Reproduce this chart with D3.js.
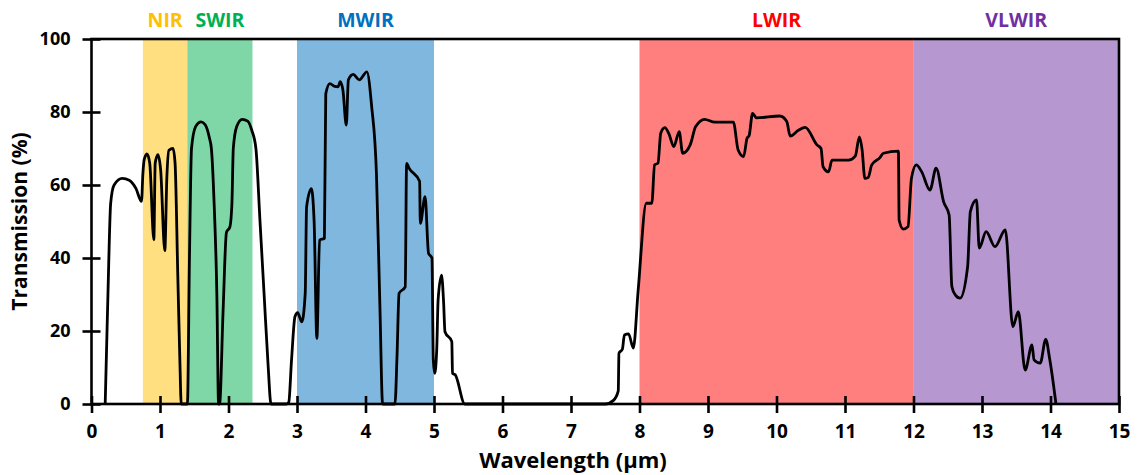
<!DOCTYPE html>
<html>
<head>
<meta charset="utf-8">
<script src="https://cdn.jsdelivr.net/npm/d3@7"></script>
<style>
  html, body { margin: 0; padding: 0; background: #fff; }
  svg { display: block; }
  text { font-family: "Open Sans", "DejaVu Sans", sans-serif; font-weight: 700; }
</style>
</head>
<body>
<svg id="chart" width="1137" height="475"></svg>
<script>
// Spectral bands (µm)
const bandNames  = ["NIR", "SWIR", "MWIR", "LWIR", "VLWIR"];
const bandStart  = [0.75, 1.4, 3, 8, 12];
const bandEnd    = [1.4, 2.35, 5, 12, 15];
const bandColors = ["#FFC000", "#00B050", "#0070C0", "#FF0000", "#7030A0"];

// Atmospheric transmission curve: wavelength (µm) and transmission (%)
const wavelength = [
  0.20, 0.24, 0.28, 0.33, 0.45, 0.55, 0.65, 0.73, 0.75, 0.77, 0.81, 0.85, 0.91, 0.93, 0.97,
  1.01, 1.07, 1.10, 1.13, 1.19, 1.22, 1.26, 1.29, 1.31,
  1.40, 1.43, 1.46, 1.52, 1.60, 1.66, 1.72, 1.75, 1.79, 1.83, 1.855,
  1.87, 1.92, 1.97, 2.02, 2.05, 2.07, 2.12, 2.20, 2.28, 2.34, 2.40, 2.46, 2.52, 2.58, 2.62,
  2.85, 2.88, 2.92, 2.97, 3.01, 3.07, 3.12, 3.14, 3.21, 3.25, 3.29, 3.33, 3.40, 3.42, 3.48,
  3.55, 3.60, 3.63, 3.67, 3.72, 3.75, 3.82, 3.91, 4.02, 4.09, 4.16, 4.21, 4.25,
  4.43, 4.46, 4.49, 4.58, 4.60, 4.64, 4.79, 4.80, 4.87, 4.92, 4.97, 4.99, 5.01, 5.04, 5.06,
  5.11, 5.14, 5.16, 5.26, 5.27, 5.31, 5.45,
  7.50, 7.62, 7.69, 7.70, 7.75, 7.78, 7.84, 7.91, 7.98, 8.10, 8.18, 8.22, 8.27, 8.31, 8.37,
  8.43, 8.50, 8.58, 8.63, 8.74, 8.82, 8.95, 9.10, 9.37, 9.44, 9.52, 9.57, 9.60, 9.65, 9.71,
  10.05, 10.15, 10.20, 10.32, 10.42, 10.59, 10.65, 10.68, 10.76, 10.81, 11.05, 11.15, 11.21,
  11.25, 11.29, 11.34, 11.39, 11.51, 11.56, 11.78, 11.79, 11.85, 11.92, 11.97, 12.04, 12.12,
  12.24, 12.33, 12.44, 12.52, 12.56, 12.61, 12.68, 12.79, 12.83, 12.92, 12.96, 13.06, 13.19,
  13.34, 13.45, 13.53, 13.63, 13.73, 13.76, 13.85, 13.93, 13.99, 14.08
];
const transmission = [
  0, 30, 55, 60, 61.8, 61.3, 59, 55.5, 63, 67, 68.5, 66, 45, 66, 68.3,
  64, 42, 62, 69.5, 70, 66, 35, 12, 0,
  0, 40, 70, 76, 77.3, 76.5, 73, 70, 55, 30, 0,
  0, 25, 47, 48.5, 55, 70, 76, 78, 77.5, 75, 70, 50, 30, 10, 0,
  0, 0.5, 12, 23.9, 25, 22.5, 30.3, 54, 59, 50, 18, 44.9, 45.4, 85, 87.8,
  87, 86.9, 88.3, 86, 76.4, 88.8, 90.3, 88.8, 91, 81.5, 63, 27, 0,
  0, 13, 30.3, 32.1, 65.9, 64.5, 61, 49.5, 56.8, 41.3, 40, 12, 8.4, 15, 28.5,
  35.3, 28, 19.8, 17.1, 8.4, 8, 0,
  0, 1, 3.6, 13.9, 15, 18.9, 19.2, 15.3, 31, 55, 55, 65.5, 66, 74.2, 75.7,
  74, 70.5, 74.6, 68.7, 71, 76, 78, 77.2, 77.2, 69.6, 67.8, 72.8, 73.5, 79.6, 78.4,
  78.9, 77.4, 73.4, 75, 75.8, 71, 70, 65, 63.6, 66.8, 66.8, 67.9, 73.2,
  69.6, 61.8, 62.1, 65.5, 67.5, 68.7, 69.3, 50.4, 47.9, 48.6, 61.8, 65.5, 63.6,
  58.6, 64.6, 55.4, 51.8, 32.2, 29.9, 29, 37.6, 52.7, 55.9, 42.7, 47.2, 43.1,
  47.7, 21.2, 25.3, 9.3, 16.2, 12.1, 11.2, 17.7, 12.1, 0
];

// Axis ticks
const xTicks = d3.range(0, 16, 1);
const yTicks = [0, 20, 40, 60, 80, 100];

const width = 1137, height = 475;
const margin = { top: 39, right: 18, bottom: 71, left: 91.5 };

const svg = d3.select("#chart");

const x = d3.scaleLinear().domain([0, 15]).range([margin.left, width - margin.right]);
const y = d3.scaleLinear().domain([0, 100]).range([height - margin.bottom, margin.top]);

// Band backgrounds (half-tone of each label colour)
const bands = bandNames.map((name, i) => ({
  name, start: bandStart[i], end: bandEnd[i], color: bandColors[i]
}));

svg.append("g")
  .selectAll("rect")
  .data(bands)
  .join("rect")
    .attr("x", d => x(d.start))
    .attr("y", y(100))
    .attr("width", d => x(d.end) - x(d.start))
    .attr("height", y(0) - y(100))
    .attr("fill", d => d.color)
    .attr("fill-opacity", 0.5);

// Band labels above the plot
svg.append("g")
  .selectAll("text")
  .data(bands)
  .join("text")
    .attr("x", d => x((d.start + d.end) / 2))
    .attr("y", 27)
    .attr("text-anchor", "middle")
    .attr("font-size", 19.5)
    .attr("fill", d => d.color)
    .text(d => d.name);

// Transmission curve
const points = wavelength.map((w, i) => [w, transmission[i]]);
const line = d3.line()
  .x(d => x(d[0]))
  .y(d => y(d[1]))
  .curve(d3.curveMonotoneX);

svg.append("path")
  .datum(points)
  .attr("fill", "none")
  .attr("stroke", "#000")
  .attr("stroke-width", 2.8)
  .attr("stroke-linejoin", "round")
  .attr("d", line);

// Plot frame
svg.append("rect")
  .attr("x", x(0))
  .attr("y", y(100))
  .attr("width", x(15) - x(0))
  .attr("height", y(0) - y(100))
  .attr("fill", "none")
  .attr("stroke", "#000")
  .attr("stroke-width", 2.6);

// X axis with ticks crossing the baseline
const xAxis = svg.append("g")
  .attr("transform", `translate(0,${y(0)})`)
  .call(d3.axisBottom(x).tickValues(xTicks).tickFormat(d3.format("d")).tickSize(9).tickPadding(12));
xAxis.select(".domain").remove();
xAxis.selectAll(".tick line")
  .attr("y1", -8).attr("y2", 9)
  .attr("stroke", "#000").attr("stroke-width", 2.6);
xAxis.selectAll(".tick text")
  .attr("font-size", 19)
  .attr("font-family", "'Open Sans', sans-serif")
  .attr("font-weight", 700)
  .attr("fill", "#000");

// Y axis with ticks crossing the left edge
const yAxis = svg.append("g")
  .attr("transform", `translate(${x(0)},0)`)
  .call(d3.axisLeft(y).tickValues(yTicks).tickFormat(d3.format("d")).tickSize(9).tickPadding(12));
yAxis.select(".domain").remove();
yAxis.selectAll(".tick line")
  .attr("x1", -9).attr("x2", 9)
  .attr("stroke", "#000").attr("stroke-width", 2.6);
yAxis.selectAll(".tick text")
  .attr("font-size", 18)
  .attr("font-family", "'Open Sans', sans-serif")
  .attr("font-weight", 700)
  .attr("fill", "#000");

// Axis titles
svg.append("text")
  .attr("x", 573)
  .attr("y", 468)
  .attr("text-anchor", "middle")
  .attr("font-size", 22)
  .attr("fill", "#000")
  .text("Wavelength (μm)");

svg.append("text")
  .attr("transform", `translate(27,${(y(0) + y(100)) / 2}) rotate(-90)`)
  .attr("text-anchor", "middle")
  .attr("font-size", 21)
  .attr("fill", "#000")
  .text("Transmission (%)");
</script>
</body>
</html>
